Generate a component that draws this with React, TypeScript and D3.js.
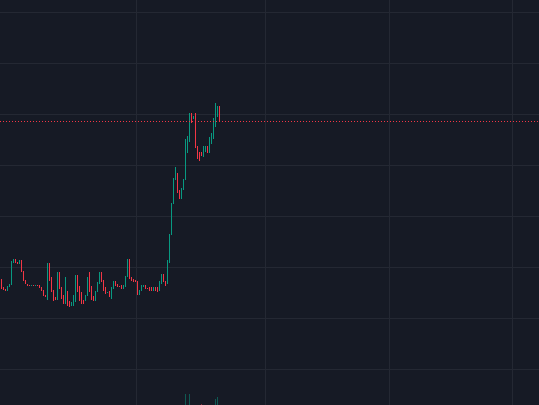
import React from "react";
import * as d3 from "d3";

const W = 539;
const H = 405;

// OHLC data (price units), one candle per index
const openP = [
  88.7, 79.9, 78.9, 77.9, 80.9, 83.8, 104.4, 107.4, 104.4, 103.4,
  106.4, 96.6, 86.8, 83.3, 82.8, 82.4, 82.8, 82.4, 82.8, 82.4,
  80.4, 77.9, 73.0, 69.1, 103.4, 89.7, 77.9, 70.1, 69.1, 94.6,
  79.9, 72.1, 65.2, 76.0, 66.2, 63.2, 63.2, 66.2, 92.6, 80.9,
  75.0, 68.1, 68.1, 73.0, 94.6, 80.9, 71.1, 68.1, 76.0, 84.8,
  94.6, 87.7, 79.9, 75.0, 76.0, 70.1, 79.9, 85.8, 83.8, 81.9,
  81.9, 79.9, 80.9, 90.7, 107.4, 89.7, 88.7, 86.8, 85.8, 74.0,
  77.0, 80.9, 81.9, 79.9, 79.9, 79.9, 77.0, 79.9, 79.9, 77.0,
  84.8, 93.6, 85.8, 84.8, 105.4, 131.9, 162.3, 185.8, 192.6, 175.0,
  167.2, 176.0, 185.8, 225.0, 224.0, 250.5, 245.6, 250.5, 219.1, 212.3,
  213.2, 209.3, 214.2, 219.1, 213.2, 221.1, 226.0, 238.7, 248.5, 258.3,
];
const closeP = [
  79.9, 78.9, 77.9, 80.9, 83.8, 105.4, 107.4, 104.4, 103.4, 106.4,
  96.1, 86.8, 84.3, 82.8, 82.4, 82.8, 82.4, 82.8, 82.4, 80.4,
  77.5, 73.0, 71.1, 103.4, 87.7, 76.0, 68.1, 69.1, 94.6, 79.9,
  70.1, 65.2, 89.7, 63.2, 61.3, 65.2, 72.1, 92.6, 76.0, 68.1,
  65.2, 65.2, 73.0, 89.7, 76.0, 69.1, 68.1, 76.0, 84.8, 94.6,
  85.8, 77.9, 75.0, 76.0, 71.1, 79.9, 85.8, 82.8, 80.9, 80.9,
  79.9, 82.8, 90.7, 107.4, 89.7, 86.8, 85.8, 85.8, 74.0, 77.0,
  82.8, 82.8, 79.9, 79.4, 77.9, 77.0, 79.9, 77.0, 76.0, 85.8,
  93.6, 85.8, 82.8, 106.4, 132.8, 163.2, 186.8, 198.5, 174.0, 167.2,
  177.0, 185.8, 225.0, 228.9, 250.5, 242.6, 248.5, 218.1, 206.4, 205.4,
  210.3, 219.1, 219.1, 212.3, 227.0, 230.9, 245.6, 260.3, 258.3, 243.3,
];
const highP = [
  89.2, 80.4, 79.4, 81.4, 84.3, 106.0, 108.0, 108.0, 105.0, 107.0,
  107.0, 97.0, 87.3, 83.5, 83.0, 83.0, 83.0, 83.0, 83.0, 82.8,
  80.8, 78.4, 73.5, 104.0, 104.0, 90.2, 78.4, 70.6, 95.1, 95.1,
  80.4, 72.6, 90.2, 76.5, 66.7, 65.7, 72.6, 93.1, 93.1, 81.4,
  75.5, 68.6, 73.5, 90.2, 95.1, 81.4, 71.6, 76.5, 85.3, 95.1,
  95.1, 88.2, 80.4, 76.3, 76.5, 80.4, 86.3, 86.3, 84.3, 82.2,
  82.4, 83.3, 91.2, 108.0, 108.0, 90.2, 89.2, 87.3, 86.3, 77.5,
  83.3, 83.3, 82.4, 80.2, 80.4, 80.4, 80.4, 80.4, 80.4, 86.3,
  94.1, 94.1, 86.3, 107.0, 133.3, 163.7, 187.3, 199.0, 193.1, 175.5,
  177.5, 186.3, 225.5, 229.4, 251.0, 251.0, 249.0, 251.0, 219.6, 212.8,
  213.7, 219.6, 219.6, 219.6, 227.5, 231.4, 246.1, 260.8, 258.8, 258.8,
];
const lowP = [
  79.4, 78.4, 77.4, 77.4, 80.4, 83.3, 104.0, 104.0, 103.0, 103.0,
  95.6, 86.3, 83.8, 82.6, 82.2, 82.2, 82.2, 82.2, 82.2, 80.0,
  77.0, 72.5, 70.6, 68.6, 87.2, 75.5, 67.6, 68.6, 68.6, 79.4,
  69.6, 64.7, 64.7, 62.7, 60.8, 62.7, 62.7, 65.7, 75.5, 67.6,
  64.7, 64.7, 67.6, 72.5, 75.5, 68.6, 67.6, 67.6, 75.5, 84.3,
  85.3, 77.4, 74.5, 74.7, 70.6, 69.6, 79.4, 82.3, 80.4, 80.6,
  79.4, 79.4, 80.4, 90.2, 89.2, 86.3, 85.3, 85.3, 73.5, 73.5,
  76.5, 80.4, 79.4, 79.2, 77.4, 76.5, 76.5, 76.5, 75.5, 76.5,
  84.3, 85.3, 82.3, 84.3, 104.9, 131.4, 161.8, 185.3, 173.5, 166.7,
  166.7, 175.5, 185.3, 212.3, 223.5, 242.1, 245.1, 217.6, 205.9, 204.9,
  209.8, 208.8, 213.7, 211.8, 212.7, 220.6, 225.5, 238.2, 248.0, 242.8,
];
const volumes = [
  12, 5, 3, 6, 8, 22, 9, 7, 3, 6,
  14, 11, 6, 2, 1, 2, 1, 2, 1, 5,
  8, 10, 6, 30, 18, 14, 9, 3, 24, 15,
  10, 8, 22, 14, 6, 4, 9, 25, 17, 12,
  9, 5, 7, 16, 20, 13, 5, 8, 10, 14,
  12, 10, 7, 3, 11, 8, 6, 4, 3, 4,
  5, 4, 9, 18, 20, 8, 5, 3, 15, 5,
  6, 3, 4, 2, 4, 5, 4, 5, 6, 9,
  11, 9, 6, 28, 40, 46, 42, 30, 35, 22,
  20, 24, 100, 38, 99, 30, 14, 44, 28, 20,
  63, 18, 12, 16, 26, 30, 45, 82, 87, 52,
];

const priceTicks = [0, 50, 100, 150, 200, 250, 300, 350];
const timeGridIdx = [67.5, 132, 194, 255.5];

const BG = "#161a25";
const GRID = "#242833";
const UP = "#089981";
const DOWN = "#f23645";

export default function App() {
  const n = openP.length;
  const x = d3.scaleLinear().domain([0, 1]).range([1.5, 3.5]);
  const y = d3.scaleLinear().domain([0, 350]).range([369.5, 12.5]);
  const v = d3.scaleLinear().domain([0, 100]).range([420, 394]);
  const idx = d3.range(n);
  const lastY = Math.round(y(closeP[n - 1])) + 0.5;
  const lastUp = closeP[n - 1] >= openP[n - 1];

  return (
    <div style={{ position: "fixed", left: 0, top: 0, width: W, height: H }}>
      <svg width={W} height={H} style={{ display: "block" }}>
        <rect x={0} y={0} width={W} height={H} fill={BG} />
        <g stroke={GRID} strokeWidth={1} shapeRendering="crispEdges">
          {priceTicks.map((t) => (
            <line key={"h" + t} x1={0} x2={W} y1={y(t)} y2={y(t)} />
          ))}
          {timeGridIdx.map((t) => (
            <line key={"v" + t} x1={x(t)} x2={x(t)} y1={0} y2={H} />
          ))}
        </g>
        <g shapeRendering="crispEdges">
          {idx.map((i) => {
            const up = closeP[i] >= openP[i];
            const c = up ? UP : DOWN;
            const px = Math.floor(x(i));
            const top = v(volumes[i]);
            return (
              <rect
                key={"v" + i}
                x={px}
                y={top}
                width={1}
                height={Math.max(0, 420 - top)}
                fill={c}
                fillOpacity={0.5}
              />
            );
          })}
        </g>
        <g shapeRendering="crispEdges">
          {idx.map((i) => {
            const up = closeP[i] >= openP[i];
            const c = up ? UP : DOWN;
            const px = Math.floor(x(i));
            const yh = Math.round(y(highP[i]));
            const yl = Math.round(y(lowP[i]));
            const yb1 = Math.round(y(Math.max(openP[i], closeP[i])));
            const yb2 = Math.round(y(Math.min(openP[i], closeP[i])));
            return (
              <g key={"c" + i} fill={c}>
                <rect x={px} y={yh} width={1} height={Math.max(1, yl - yh)} />
                <rect x={px} y={yb1} width={1} height={Math.max(1, yb2 - yb1)} />
              </g>
            );
          })}
        </g>
        <line
          x1={0}
          x2={W}
          y1={lastY}
          y2={lastY}
          stroke={lastUp ? UP : DOWN}
          strokeWidth={1}
          strokeDasharray="1 2"
          shapeRendering="crispEdges"
        />
      </svg>
    </div>
  );
}
